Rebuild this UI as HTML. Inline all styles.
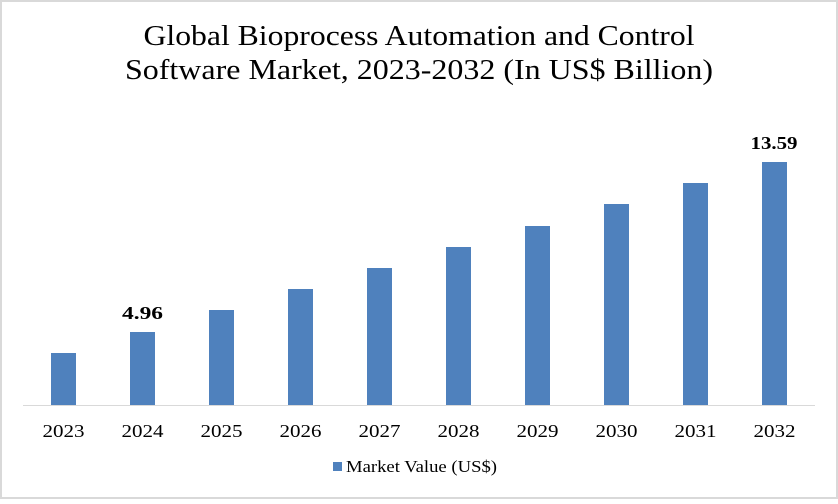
<!DOCTYPE html>
<html><head><meta charset="utf-8"><style>
html,body{margin:0;padding:0;background:#fff}
</style></head><body>
<svg width="838" height="499" viewBox="0 0 838 499" xmlns="http://www.w3.org/2000/svg" font-family="'Liberation Serif', serif">
<rect x="1" y="1" width="836" height="497" fill="#fff" stroke="#d9d9d9" stroke-width="2"/>
<text x="419" y="45" text-anchor="middle" font-size="29" fill="#000" textLength="551" lengthAdjust="spacingAndGlyphs">Global Bioprocess Automation and Control</text>
<text x="419" y="79" text-anchor="middle" font-size="29" fill="#000" textLength="588" lengthAdjust="spacingAndGlyphs">Software Market, 2023-2032 (In US$ Billion)</text>
<line x1="23" y1="405.5" x2="815" y2="405.5" stroke="#d9d9d9" stroke-width="1"/>
<g fill="#4f81bd">
<rect x="51" y="353" width="25" height="52"/>
<rect x="130" y="332" width="25" height="73"/>
<rect x="209" y="310" width="25" height="95"/>
<rect x="288" y="289" width="25" height="116"/>
<rect x="367" y="268" width="25" height="137"/>
<rect x="446" y="247" width="25" height="158"/>
<rect x="525" y="226" width="25" height="179"/>
<rect x="604" y="204" width="25" height="201"/>
<rect x="683" y="183" width="25" height="222"/>
<rect x="762" y="162" width="25" height="243"/>
</g>
<g font-size="18" text-anchor="middle" fill="#000">
<text x="63.5" y="437" textLength="42" lengthAdjust="spacingAndGlyphs">2023</text><text x="142.5" y="437" textLength="42" lengthAdjust="spacingAndGlyphs">2024</text><text x="221.5" y="437" textLength="42" lengthAdjust="spacingAndGlyphs">2025</text>
<text x="300.5" y="437" textLength="42" lengthAdjust="spacingAndGlyphs">2026</text><text x="379.5" y="437" textLength="42" lengthAdjust="spacingAndGlyphs">2027</text><text x="458.5" y="437" textLength="42" lengthAdjust="spacingAndGlyphs">2028</text>
<text x="537.5" y="437" textLength="42" lengthAdjust="spacingAndGlyphs">2029</text><text x="616.5" y="437" textLength="42" lengthAdjust="spacingAndGlyphs">2030</text><text x="695.5" y="437" textLength="42" lengthAdjust="spacingAndGlyphs">2031</text>
<text x="774.5" y="437" textLength="42" lengthAdjust="spacingAndGlyphs">2032</text>
</g>
<g font-size="18" font-weight="bold" text-anchor="middle" fill="#000">
<text x="142.5" y="319" textLength="41" lengthAdjust="spacingAndGlyphs">4.96</text>
<text x="774" y="149" textLength="47" lengthAdjust="spacingAndGlyphs">13.59</text>
</g>
<rect x="333" y="462" width="9" height="9" fill="#4f81bd"/>
<text x="346" y="472" font-size="17" fill="#000" textLength="151" lengthAdjust="spacingAndGlyphs">Market Value (US$)</text>
</svg>
</body></html>
